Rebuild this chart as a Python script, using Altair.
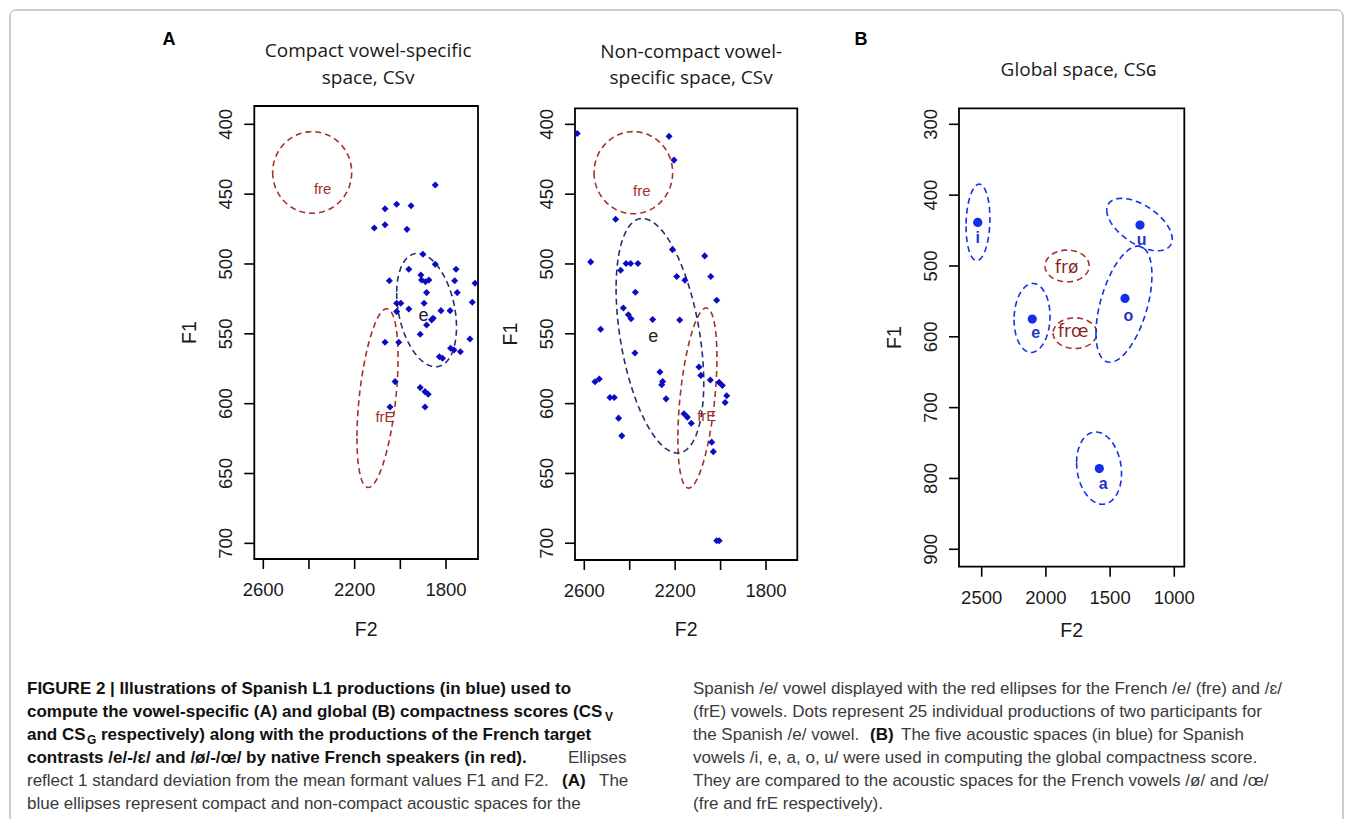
import numpy as np
import pandas as pd
import altair as alt

# ---------------------------------------------------------------- data
# Panel A (left): compact vowel-specific space, Spanish /e/ productions (F2, F1 in Hz)
a1_f2 = [1847, 2067, 2016, 1953, 2114, 2067, 1971, 1901, 1847, 1963, 1756, 2048, 1910, 1907,
         1890, 1875, 1762, 1673, 1885, 1751, 1685, 1896, 2016, 1998, 2016, 1963, 1822, 1782,
         1863, 1856, 1885, 1913, 2067, 2007, 1695, 1780, 1765, 1737, 1829, 1815, 2023, 1913,
         1892, 1878, 1892, 2045]
a1_f1 = [443.5, 460.4, 457.3, 458.3, 474.2, 471.9, 475.2, 493.0, 500.2, 503.8, 503.8, 512.0,
         507.9, 511.5, 512.7, 511.5, 512.0, 513.8, 520.5, 520.5, 527.4, 528.1, 528.1, 528.1,
         534.1, 532.2, 533.4, 533.4, 540.0, 538.9, 543.7, 550.3, 556.0, 556.0, 553.7, 560.3,
         561.6, 562.8, 566.4, 567.5, 584.2, 588.5, 591.4, 593.3, 602.4, 602.4]

# Panel A (middle): non-compact vowel-specific space
a2_f2 = [2631, 2227, 2205, 2462, 2572, 2416, 2396, 2364, 2440, 2212, 2070, 2193, 2157, 2043,
         2375, 2017, 2428, 2406, 2394, 2299, 2180, 2528, 2377, 2553, 2534, 2267, 2255, 2259,
         2095, 2087, 2045, 2006, 1992, 1973, 1980, 2487, 2468, 2240, 2449, 2435, 2161, 2146,
         2129, 2039, 2032, 2017, 2006]
a2_f1 = [406.5, 408.6, 425.6, 467.9, 498.5, 499.7, 499.7, 499.7, 504.5, 489.7, 494.2, 509.0,
         511.7, 509.0, 520.3, 526.0, 531.5, 536.3, 539.2, 539.7, 540.1, 546.8, 563.8, 584.4,
         582.4, 577.4, 584.1, 586.5, 573.8, 579.8, 583.1, 584.8, 587.0, 594.4, 599.2, 595.6,
         595.6, 596.6, 610.4, 623.1, 607.3, 609.7, 614.0, 627.6, 634.4, 698.2, 698.2]

# Ellipses (1 SD): centre F2, centre F1, half-range F2, half-range F1, correlation
a1_ell_name = ["fre", "e", "frE"]
a1_ell_lang = ["fr", "es", "fr"]
a1_ell_cf2 = [2386, 1885, 2100]
a1_ell_cf1 = [434.5, 533.0, 596.0]
a1_ell_sf2 = [173, 131, 90]
a1_ell_sf1 = [29.2, 40.6, 64.0]
a1_ell_rho = [0.0, -0.30, 0.45]

a2_ell_name = ["fre", "e", "frE"]
a2_ell_lang = ["fr", "es", "fr"]
a2_ell_cf2 = [2384, 2267, 2102]
a2_ell_cf1 = [434.6, 551.4, 596.0]
a2_ell_sf2 = [173, 193, 86]
a2_ell_sf1 = [29.4, 84.0, 64.5]
a2_ell_rho = [0.0, -0.40, 0.45]

# Labels inside panels A
a1_lab_text = ["fre", "e", "frE"]
a1_lab_lang = ["fr", "es", "fr"]
a1_lab_f2 = [2340, 1899, 2067]
a1_lab_f1 = [446.5, 537.0, 609.4]
a2_lab_text = ["fre", "e", "frE"]
a2_lab_lang = ["fr", "es", "fr"]
a2_lab_f2 = [2347, 2296, 2061]
a2_lab_f1 = [447.8, 552.5, 608.9]

# Panel B: global space, mean of the five Spanish vowels
b_vowel = ["i", "e", "a", "o", "u"]
b_f2 = [2531, 2106, 1584, 1384, 1267]
b_f1 = [438.5, 575.0, 786.0, 545.8, 442.3]
b_lab_f2 = [2531, 2080, 1553, 1358, 1254]
b_lab_f1 = [461.0, 595.3, 807.2, 570.4, 463.5]

b_ell_name = ["i", "e", "a", "o", "u", "frø", "frœ"]
b_ell_lang = ["es", "es", "es", "es", "es", "fr", "fr"]
b_ell_cf2 = [2529, 2108, 1586, 1392, 1271, 1835, 1774]
b_ell_cf1 = [438.5, 573.4, 785.4, 554.0, 441.5, 500.0, 594.9]
b_ell_sf2 = [93, 140, 175, 218, 255, 172, 170]
b_ell_sf1 = [54.0, 48.7, 51.0, 82.0, 37.0, 22.4, 21.6]
b_ell_rho = [0.10, 0.05, -0.15, 0.50, -0.55, 0.0, 0.0]

b_fr_text = ["frø", "frœ"]
b_fr_f2 = [1838, 1787]
b_fr_f1 = [503.5, 593.0]

# Axis ticks
a_xticks = [2600, 2400, 2200, 2000, 1800]
a_xlabels = ["2600", "", "2200", "", "1800"]
a_yticks = [400, 450, 500, 550, 600, 650, 700]
b_xticks = [2500, 2000, 1500, 1000]
b_yticks = [300, 400, 500, 600, 700, 800, 900]

titles_a1 = ["Compact vowel-specific", "space, CSv"]
titles_a2 = ["Non-compact vowel-", "specific space, CSv"]
titles_b = ["Global space, CSɢ"]

# Caption text
cap_left = [
    "FIGURE 2 | Illustrations of Spanish L1 productions (in blue) used to",
    "compute the vowel-specific (A) and global (B) compactness scores (CS",
    "and CS",
    "contrasts /e/-/ɛ/ and /ø/-/œ/ by native French speakers (in red).",
    "reflect 1 standard deviation from the mean formant values F1 and F2.",
    "blue ellipses represent compact and non-compact acoustic spaces for the",
]
cap_right = [
    "Spanish /e/ vowel displayed with the red ellipses for the French /e/ (fre) and /ɛ/",
    "(frE) vowels. Dots represent 25 individual productions of two participants for",
    "the Spanish /e/ vowel.",
    "vowels /i, e, a, o, u/ were used in computing the global compactness score.",
    " They are compared to the acoustic spaces for the French vowels /ø/ and /œ/",
    "(fre and frE respectively).",
]

# ---------------------------------------------------------------- style
W, H = 1337, 811
AX_FONT = "Liberation Sans, Arial, sans-serif"
AX_SIZE = 18.5
TI_FONT = "Open Sans, Noto Sans, sans-serif"
CAP_FONT = "Liberation Sans, Arial, sans-serif"
CAP_SIZE = 17
RED = "#a3312c"
NAVY = "#2a2d6e"
DOT_A = "#0b0bc4"
BLUE_B = "#1230e8"


def ellipse_df(names, langs, cf2, cf1, sf2, sf1, rho, n=120):
    rows = []
    t = np.linspace(0, 2 * np.pi, n)
    for nm, lg, a, b, sa, sb, r in zip(names, langs, cf2, cf1, sf2, sf1, rho):
        d = np.arccos(r)
        for i, tt in enumerate(t):
            rows.append({"name": nm, "lang": lg, "t": i,
                         "F2": a + sa * np.cos(tt), "F1": b + sb * np.cos(tt - d)})
    return pd.DataFrame(rows)


def panel(geom, dots_layers, ell, ell_colors, dash, label_layers, xticks, xlabels, yticks,
          titles, title_base, title_dx, f2_dy):
    xl, yl = geom["xlim"], geom["ylim"]
    xs = alt.Scale(domain=xl, range=geom["xr"], nice=False, zero=False)
    ys = alt.Scale(domain=yl, range=geom["yr"], nice=False, zero=False)

    def X(f="F2"):
        return alt.X(f"{f}:Q", scale=xs, axis=None)

    def Y(f="F1"):
        return alt.Y(f"{f}:Q", scale=ys, axis=None)

    left = max(xl)
    bottom = max(yl)
    top = min(yl)
    midx = (xl[0] + xl[1]) / 2
    midy = (yl[0] + yl[1]) / 2
    layers = []

    frame = pd.DataFrame({"x0": [xl[0]], "x1": [xl[1]], "y0": [yl[0]], "y1": [yl[1]]})
    layers.append(alt.Chart(frame).mark_rect(fillOpacity=0, stroke="black", strokeWidth=1.8)
                  .encode(x=X("x0"), x2="x1:Q", y=Y("y0"), y2="y1:Q"))

    xt = pd.DataFrame({"F2": xticks, "F1": [bottom] * len(xticks), "lab": xlabels})
    layers.append(alt.Chart(xt).mark_tick(orient="vertical", size=10, thickness=1.6,
                                          yOffset=5, color="black", opacity=1)
                  .encode(x=X(), y=Y()))
    layers.append(alt.Chart(xt).mark_text(font=AX_FONT, fontSize=AX_SIZE, dy=31, color="#1a1a1a")
                  .encode(x=X(), y=Y(), text="lab:N"))
    yt = pd.DataFrame({"F1": yticks, "F2": [left] * len(yticks),
                       "lab": [str(v) for v in yticks]})
    layers.append(alt.Chart(yt).mark_tick(orient="horizontal", size=10, thickness=1.6,
                                          xOffset=-5, color="black", opacity=1)
                  .encode(x=X(), y=Y()))
    # rotated text: offsets are applied in the rotated frame (dy -> screen left)
    layers.append(alt.Chart(yt).mark_text(font=AX_FONT, fontSize=AX_SIZE, dy=-28, angle=270,
                                          baseline="middle", color="#1a1a1a")
                  .encode(x=X(), y=Y(), text="lab:N"))

    at = pd.DataFrame({"F2": [midx], "F1": [bottom], "lab": ["F2"]})
    layers.append(alt.Chart(at).mark_text(font=AX_FONT, fontSize=AX_SIZE + 1, dy=f2_dy, color="#1a1a1a")
                  .encode(x=X(), y=Y(), text="lab:N"))
    at2 = pd.DataFrame({"F2": [left], "F1": [midy], "lab": ["F1"]})
    layers.append(alt.Chart(at2).mark_text(font=AX_FONT, fontSize=AX_SIZE + 1, dy=-64, angle=270,
                                           baseline="middle", color="#1a1a1a")
                  .encode(x=X(), y=Y(), text="lab:N"))

    n = len(titles)
    for i, line in enumerate(titles):
        td = pd.DataFrame({"F2": [midx], "F1": [top], "lab": [line]})
        layers.append(alt.Chart(td).mark_text(font=TI_FONT, fontSize=19, color="#1a1a1a",
                                              dx=title_dx,
                                              dy=-(title_base + (n - 1 - i) * 26.6))
                      .encode(x=X(), y=Y(), text="lab:N"))

    for lg, col in ell_colors.items():
        sub = ell[ell["lang"] == lg]
        layers.append(alt.Chart(sub).mark_line(strokeDash=dash, strokeWidth=1.6, color=col)
                      .encode(x=X(), y=Y(), detail="name:N", order="t:Q"))

    for df, kw in dots_layers:
        layers.append(alt.Chart(df).mark_point(filled=True, opacity=1, **kw)
                      .encode(x=X(), y=Y()))
    for df, kw in label_layers:
        layers.append(alt.Chart(df).mark_text(**kw).encode(x=X(), y=Y(), text="lab:N"))
    return alt.layer(*layers)


# ---------------------------------------------------------------- panels
geom_a1 = {"xlim": [1659.9, 2639.4], "ylim": [386.9, 711.2], "xr": [470, 246.3], "yr": [98, 551]}
geom_a2 = {"xlim": [1662.2, 2640.9], "ylim": [388.5, 712.0], "xr": [789.3, 567], "yr": [100.3, 552]}
geom_b = {"xlim": [922.1, 2676.8], "ylim": [277.4, 924.6], "xr": [1176.3, 951], "yr": [100.3, 558.7]}


def lab_df(f2, f1, text):
    return pd.DataFrame({"F2": f2, "F1": f1, "lab": text})


def lab_layers(f2, f1, text, langs, fr_kw, es_kw):
    df = lab_df(f2, f1, text)
    df["lang"] = langs
    return [(df[df["lang"] == "fr"], fr_kw), (df[df["lang"] == "es"], es_kw)]


fr_kw_a = dict(font=AX_FONT, fontSize=15, color=RED)
es_kw_a = dict(font=AX_FONT, fontSize=18, color="#1c1c3a")

p_a1 = panel(geom_a1,
             [(pd.DataFrame({"F2": a1_f2, "F1": a1_f1}), dict(shape="diamond", size=50, color=DOT_A))],
             ellipse_df(a1_ell_name, a1_ell_lang, a1_ell_cf2, a1_ell_cf1, a1_ell_sf2, a1_ell_sf1, a1_ell_rho),
             {"fr": RED, "es": NAVY}, [6, 4],
             lab_layers(a1_lab_f2, a1_lab_f1, a1_lab_text, a1_lab_lang, fr_kw_a, es_kw_a),
             a_xticks, a_xlabels, a_yticks, titles_a1, 28, 2, 71)

p_a2 = panel(geom_a2,
             [(pd.DataFrame({"F2": a2_f2, "F1": a2_f1}), dict(shape="diamond", size=50, color=DOT_A))],
             ellipse_df(a2_ell_name, a2_ell_lang, a2_ell_cf2, a2_ell_cf1, a2_ell_sf2, a2_ell_sf1, a2_ell_rho),
             {"fr": RED, "es": NAVY}, [6, 4],
             lab_layers(a2_lab_f2, a2_lab_f1, a2_lab_text, a2_lab_lang, fr_kw_a, es_kw_a),
             a_xticks, a_xlabels, a_yticks, titles_a2, 30, 5, 70)

b_labels = [(lab_df(b_lab_f2, b_lab_f1, b_vowel),
             dict(font=AX_FONT, fontSize=16, fontWeight="bold", color="#1f35c8")),
            (lab_df(b_fr_f2, b_fr_f1, b_fr_text),
             dict(font="DejaVu Sans, Liberation Sans, sans-serif", fontSize=17, color="#8c1f1f"))]

p_b = panel(geom_b,
            [(pd.DataFrame({"F2": b_f2, "F1": b_f1}), dict(shape="circle", size=85, color=BLUE_B))],
            ellipse_df(b_ell_name, b_ell_lang, b_ell_cf2, b_ell_cf1, b_ell_sf2, b_ell_sf1, b_ell_rho),
            {"fr": RED, "es": BLUE_B}, [6, 4],
            b_labels,
            b_xticks, [str(v) for v in b_xticks], b_yticks, titles_b, 38, 7, 64)

# ---------------------------------------------------------------- decorations
one = pd.DataFrame({"k": [0]})
border = alt.Chart(one).mark_rect(fillOpacity=0, stroke="#9a9a9a", strokeWidth=1, cornerRadius=6).encode(
    x=alt.value(2), x2=alt.value(1335), y=alt.value(2), y2=alt.value(H + 30))
letter_a = alt.Chart(pd.DataFrame({"lab": ["A"]})).mark_text(
    font=CAP_FONT, fontSize=18, fontWeight="bold", color="black").encode(
    x=alt.value(161), y=alt.value(32), text="lab:N")
letter_b = alt.Chart(pd.DataFrame({"lab": ["B"]})).mark_text(
    font=CAP_FONT, fontSize=18, fontWeight="bold", color="black").encode(
    x=alt.value(853), y=alt.value(32), text="lab:N")

# ---------------------------------------------------------------- caption
cx = alt.Scale(domain=[0, 1], range=[19, 685], nice=False, zero=False)
cy = alt.Scale(domain=[0, 5], range=[681, 796], nice=False, zero=False)


def cap(col, line, text, bold=False, dx=0, size=CAP_SIZE, dy=0):
    df = pd.DataFrame({"col": [col], "line": [line], "lab": [text]})
    return alt.Chart(df).mark_text(
        font=CAP_FONT, fontSize=size, fontWeight="bold" if bold else "normal",
        color="#111111" if bold else "#3a3a3a", align="left", baseline="middle", dx=dx, dy=dy
    ).encode(x=alt.X("col:Q", scale=cx, axis=None), y=alt.Y("line:Q", scale=cy, axis=None),
             text="lab:N")


cap_layers = []
for i, t in enumerate(cap_left):
    cap_layers.append(cap(0, i, t, bold=i < 4))
cap_layers.append(cap(0, 1, "V", bold=True, dx=578, size=12, dy=5))
cap_layers.append(cap(0, 2, "G", bold=True, dx=60, size=12, dy=5))
cap_layers.append(cap(0, 2, "respectively) along with the productions of the French target", bold=True, dx=74))
cap_layers.append(cap(0, 3, "Ellipses", dx=541))
cap_layers.append(cap(0, 4, "(A)", bold=True, dx=535))
cap_layers.append(cap(0, 4, "The", dx=572))
for i, t in enumerate(cap_right):
    cap_layers.append(cap(1, i, t))
cap_layers.append(cap(1, 2, "(B)", bold=True, dx=177))
cap_layers.append(cap(1, 2, "The five acoustic spaces (in blue) for Spanish", dx=208))
caption = alt.layer(*cap_layers)

chart = alt.layer(border, letter_a, letter_b, p_a1, p_a2, p_b, caption).resolve_scale(
    x="independent", y="independent"
).properties(width=W, height=H, padding=0, autosize=alt.AutoSizeParams(type="none")
).configure_view(stroke=None)

chart.save("out.html", embed_options={"renderer": "svg", "actions": False})
